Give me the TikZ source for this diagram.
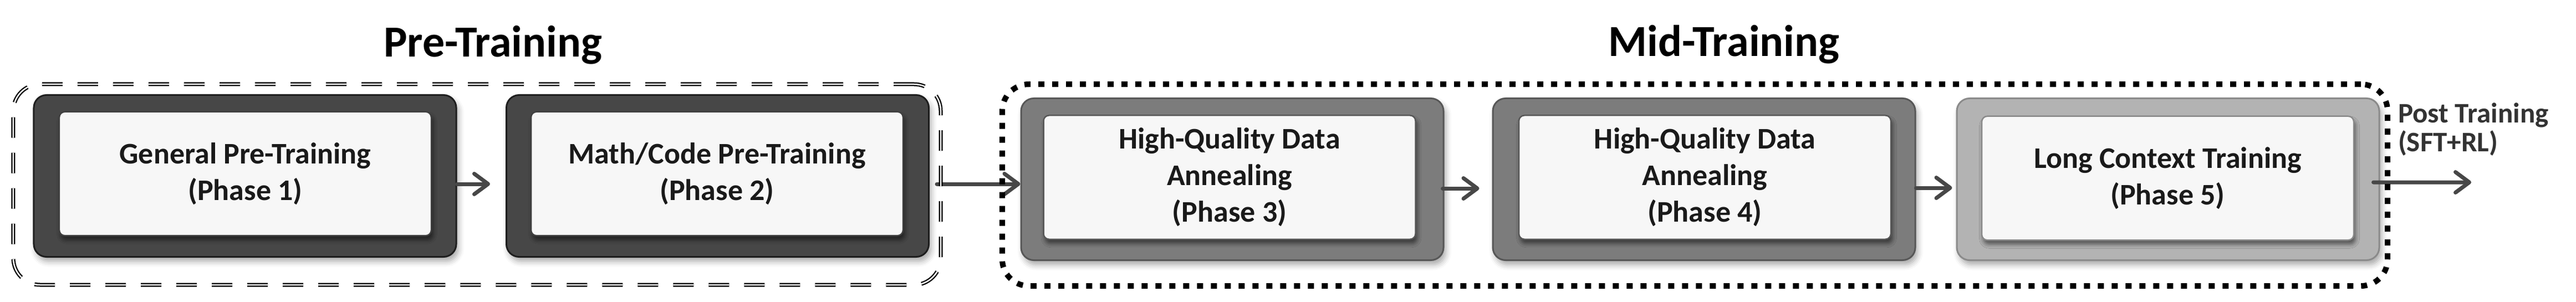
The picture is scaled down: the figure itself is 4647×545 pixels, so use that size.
\documentclass[tikz,border=0pt]{standalone}
\usepackage{fontspec}
\setmainfont{Carlito}
\usetikzlibrary{arrows.meta,shadows.blur,calc}
\definecolor{darkfill}{HTML}{474747}
\definecolor{darkline}{HTML}{1E1E1E}
\definecolor{midfill}{HTML}{7C7C7C}
\definecolor{midline}{HTML}{575757}
\definecolor{lightfill}{HTML}{B3B3B3}
\definecolor{lightline}{HTML}{8A8A8A}
\definecolor{innerfill}{HTML}{F7F7F7}
\definecolor{textcol}{HTML}{1A1A1A}
\definecolor{arrowcol}{HTML}{474747}
\definecolor{postcol}{HTML}{333333}
\begin{document}
\begin{tikzpicture}[x=0.2pt,y=-0.2pt,
  outerbox/.style={rounded corners=4.6pt, minimum width=152.4pt, minimum height=58.4pt,
    inner sep=0pt, line width=0.6pt,
    blur shadow={shadow xshift=0.8pt, shadow yshift=-1.6pt, shadow blur radius=2pt, shadow opacity=35}},
  darkbox/.style={outerbox, fill=darkfill, draw=darkline},
  midbox/.style={outerbox, fill=midfill, draw=midline},
  lightbox/.style={outerbox, fill=lightfill, draw=lightline},
  innerbox/.style={rounded corners=2pt, fill=innerfill, minimum width=134.2pt, minimum height=44.7pt,
    inner sep=0pt, line width=0.5pt, align=center, text=textcol,
    font=\fontsize{10.8pt}{13.2pt}\selectfont\bfseries,
    blur shadow={shadow xshift=0.6pt, shadow yshift=-1.5pt, shadow blur radius=1.5pt, shadow opacity=55}},
  titletext/.style={font=\fontsize{16pt}{19pt}\selectfont\bfseries, text=black, inner sep=0pt, anchor=base},
  arr/.style={draw=arrowcol, line width=1.4pt, line cap=round,
    -{Straight Barb[length=5pt, width=7.4pt, line cap=round, line join=round]}},
  prebox/.style={draw=black, double=white, line width=0.45pt, double distance=0.5pt,
    dash pattern=on 7.4pt off 5.4pt, rounded corners=9.6pt, inner sep=0pt,
    minimum width=334.6pt, minimum height=72.4pt},
  midgroup/.style={draw=black, line width=2pt, dash pattern=on 2.2pt off 2.8pt,
    rounded corners=9.6pt, inner sep=0pt, minimum width=499.8pt, minimum height=72.8pt},
]
\useasboundingbox (0,0) rectangle (4647,545);

% titles
\node[titletext] (pretitle) at (889,103) {Pre-Training};
\node[titletext] (midtitle) at (3110,102) {Mid-Training};

% outer boxes
\node[darkbox]  (p1o) at (442,317.5) {};
\node[darkbox]  (p2o) at (1294.5,317.5) {};
\node[midbox]   (p3o) at (2223,323.5) {};
\node[midbox]   (p4o) at (3074,323.5) {};
\node[lightbox] (p5o) at (3911,323.5) {};

% inner boxes
\node[innerbox, draw=darkline!85] (p1) at (442.5,313.5) {General Pre-Training\\(Phase 1)};
\node[innerbox, draw=darkline!85] (p2) at (1293.5,313.5) {Math/Code Pre-Training\\(Phase 2)};
\node[innerbox, draw=midline] (p3) at (2218,320) {High-Quality Data\\Annealing\\(Phase 3)};
\node[innerbox, draw=midline] (p4) at (3075.5,320) {High-Quality Data\\Annealing\\(Phase 4)};
\node[innerbox, draw=lightline] (p5) at (3910.5,321.5) {Long Context Training\\(Phase 5)};

% post training label
\node[anchor=north west, inner sep=0pt, align=left, text=postcol,
  font=\fontsize{10.2pt}{10.4pt}\selectfont\bfseries] (post) at (4325,185) {Post Training\\(SFT+RL)};
\coordinate (postend) at (4458,329);

% arrows
\draw[arr] ($(p1o.east)+(0,14.5)$) -- ($(p2o.west)+(-28,14.5)$);
\draw[arr] ($(p2o.east)+(13,14.5)$) -- ($(p3o.west)+(0,8.5)$);
\draw[arr] ($(p3o.east)+(-3,16.5)$) -- ($(p4o.west)+(-23,16.5)$);
\draw[arr] ($(p4o.east)+(0,15.5)$) -- ($(p5o.west)+(-7,15.5)$);
\draw[arr] ($(p5o.east)+(-12,5.5)$) -- (postend);

% group frames
\node[prebox] (pregroup) at (860.5,333) {};
\node[midgroup] (midgrp) at (3057.5,334) {};
\end{tikzpicture}
\end{document}
